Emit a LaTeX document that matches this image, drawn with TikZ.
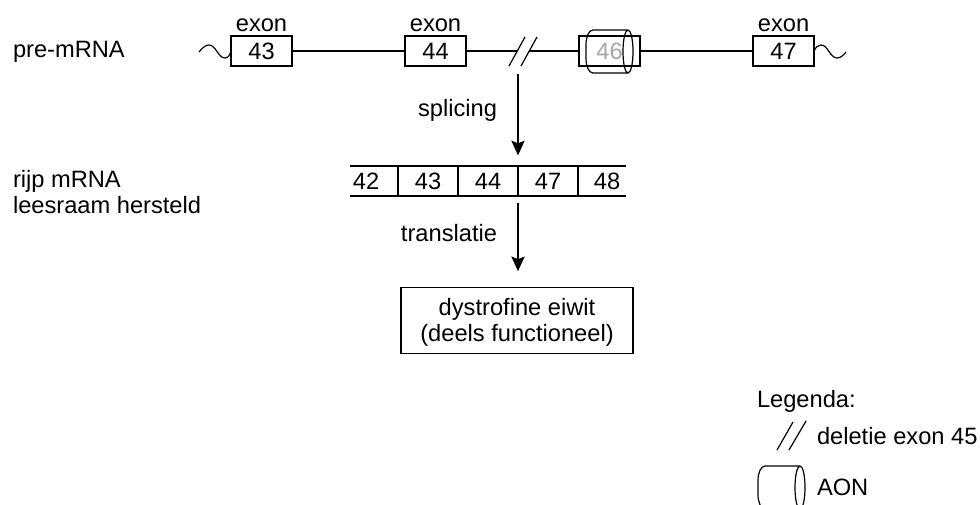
\documentclass[tikz,border=0pt]{standalone}
\usepackage{fontspec}
\setmainfont{Liberation Sans}
\usetikzlibrary{positioning,arrows.meta}
\tikzset{
    lbl/.style={inner sep=0pt,outer sep=0pt,font=\fontsize{17.75}{19}\selectfont},
    exonbox/.style={draw,lbl,minimum width=45.75pt,minimum height=22.5pt},
    mrnacell/.style={lbl,minimum height=22.5pt},
    pijl/.style={-{Stealth[length=11pt,width=10pt,inset=2pt]}},
    aon/.pic={
        \draw (0,-21.5) .. controls (-2.8,-21.5) and (-5,-12) .. (-5,0)
            .. controls (-5,12) and (-2.8,21.5) .. (0,21.5)
            .. controls (2.8,21.5) and (5,12) .. (5,0)
            .. controls (5,-12) and (2.8,-21.5) .. (0,-21.5)
            -- (-35,-21.5) .. controls (-39,-21.5) and (-42,-15) .. (-42,-7)
            -- (-42,7) .. controls (-42,15) and (-39,21.5) .. (-35,21.5) -- (0,21.5);
    }
}
\begin{document}
\begin{tikzpicture}[x=0.75pt,y=-0.75pt,line width=0.9pt]
    \clip (0,0) rectangle (980,504);

    % pre-mRNA
    \node (l_pre) [lbl,anchor=west] at (13,52) {pre-mRNA};
    \node (exon43) [exonbox,label={[lbl,label distance=3pt]above:exon}] at (261.5,51) {43};
    \node (exon44) [exonbox,right=84.75pt of exon43,label={[lbl,label distance=3pt]above:exon}] {44};
    \node (exon46) [exonbox,right=84.75pt of exon44,text=black!35] {46};
    \node (exon47) [exonbox,right=84.75pt of exon46,label={[lbl,label distance=3pt]above:exon}] {47};

    \coordinate (tail_left) at (199,52);
    \coordinate (tail_right) at (846,52);
    \coordinate (del_a1) at (525,37);
    \coordinate (del_a2) at (509,66);
    \coordinate (del_b1) at (537,37);
    \coordinate (del_b2) at (521,66);
    \coordinate (del_left) at (517,51);
    \coordinate (del_right) at (529,51);

    \draw (tail_left) .. controls (203,47) and (206,45) .. (209,45)
        .. controls (216,45) and (218,58) .. (225,58)
        .. controls (228,58) and (230,55) .. (exon43.west);
    \draw (exon47.east) .. controls (816,47) and (818,45) .. (821,45)
        .. controls (828,45) and (830,58) .. (837,58)
        .. controls (840,58) and (843,56) .. (tail_right);
    \draw (exon43) -- (exon44);
    \draw (exon44) -- (del_left);
    \draw (del_right) -- (exon46);
    \draw (exon46) -- (exon47);
    \draw (del_a1) -- (del_a2);
    \draw (del_b1) -- (del_b2);

    % AON over exon 46
    \pic at (628,51.5) {aon};

    % Mature mRNA
    \node (l_rijp) [lbl,anchor=west,align=left] at (13,192) {rijp mRNA\\leesraam hersteld};
    \node (cell42) [mrnacell,minimum width=36pt] at (374,181) {42\hspace*{12pt}};
    \node (cell43) [mrnacell,minimum width=45pt,right=0pt of cell42] {43};
    \node (cell44) [mrnacell,minimum width=45pt,right=0pt of cell43] {44};
    \node (cell47) [mrnacell,minimum width=45pt,right=0pt of cell44] {47};
    \node (cell48) [mrnacell,minimum width=36pt,right=0pt of cell47] {\hspace*{7.5pt}48};
    \draw (cell42.north west) -- (cell48.north east);
    \draw (cell42.south west) -- (cell48.south east);
    \draw (cell42.north east) -- (cell42.south east);
    \draw (cell43.north east) -- (cell43.south east);
    \draw (cell44.north east) -- (cell44.south east);
    \draw (cell47.north east) -- (cell47.south east);

    % Protein
    \node (eiwit) [draw,lbl,align=center,minimum width=174pt,minimum height=50pt] at (517,320.5)
        {\rule{0pt}{15.6pt}dystrofine eiwit\\(deels functioneel)};

    \coordinate (splice_start) at (cell44.north east |- 0,74);
    \draw[pijl,shorten >=8pt] (splice_start) -- (cell44.north east);
    \draw[pijl,shorten <=5pt,shorten >=12pt] (cell44.south east) -- (cell44.south east |- eiwit.north);
    \node (l_splicing) [lbl,anchor=east] at (497,110) {splicing};
    \node (l_translatie) [lbl,anchor=east] at (497,233) {translatie};

    % Legend
    \node (l_legenda) [lbl,anchor=west] at (757,401) {Legenda:};
    \coordinate (leg_a1) at (793,422);
    \coordinate (leg_a2) at (777,450);
    \coordinate (leg_b1) at (806,421);
    \coordinate (leg_b2) at (789,450);
    \draw (leg_a1) -- (leg_a2);
    \draw (leg_b1) -- (leg_b2);
    \node (l_deletie) [lbl,anchor=west] at (817,436) {deletie exon 45};
    \pic at (800,487.5) {aon};
    \node (l_aon) [lbl,anchor=west] at (817,487) {AON};
\end{tikzpicture}
\end{document}
